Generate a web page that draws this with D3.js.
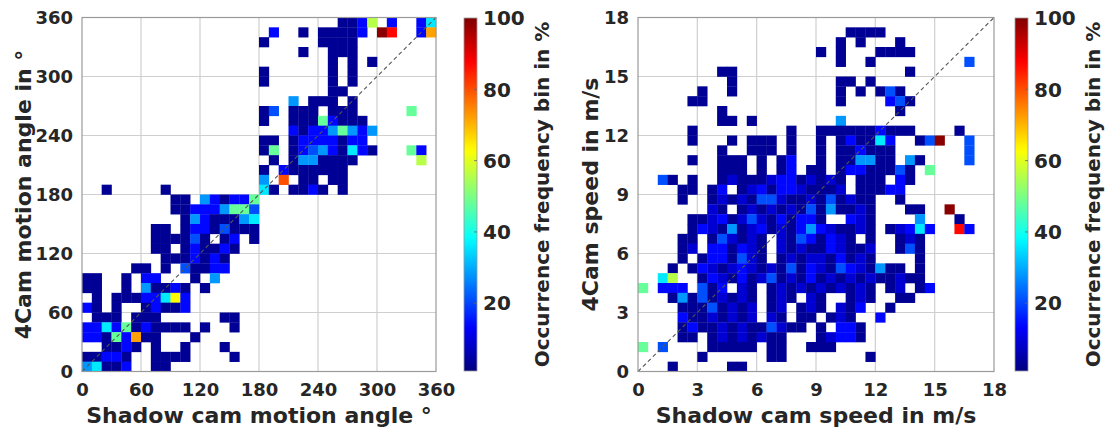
<!DOCTYPE html>
<html>
<head>
<meta charset="utf-8">
<script src="https://cdn.jsdelivr.net/npm/d3@7"></script>
<style>
  body { margin: 0; background: #fff; }
  text { font-family: "DejaVu Sans", Verdana, sans-serif; font-weight: bold; fill: #262626; }
</style>
</head>
<body>
<svg id="chart" width="1108" height="432"></svg>
<script>
// Tick labels
const angleTicks = [0, 60, 120, 180, 240, 300, 360];
const speedTicks = [0, 3, 6, 9, 12, 15, 18];
const colorTicks = [20, 40, 60, 80, 100];

// Occurrence frequency (%) for each colour level seen in the bins
const levelChars = ["1", "2", "3", "4", "5", "6", "7", "8", "9", "a", "b", "c", "d"];
const levelValues = [3, 9, 14, 21, 28, 36, 48, 56, 63, 72, 80, 87, 99];

// Motion angle histogram: 36 x 36 bins of 10 deg, top row (350-360) first,
// columns 0-360 left to right, "." = empty bin
const angleRows = [
  "...... ...... ...... ...... ..1138 .3..36",
  "...... ...... ...... .3..1. 11113. dc..3a",
  "...... ...... ...... 1..... 1111.. ......",
  "...... ...... ...... ....1. .111.. ......",
  "...... ...... ...... ...... .1.1.1 ......",
  "...... ...... ...... 1..... .1.1.. ......",
  "...... ...... ...... 1..... .1.1.. ......",
  "...... ...... ...... ...... .11... ......",
  "...... ...... ...... ...5.1 11.1.. ......",
  "...... ...... ...... 14.111 .111.. ...7..",
  "...... ...... ...... 1..111 73111. ......",
  "...... ...... ...... ...313 357535 ......",
  "...... ...... ...... 11.133 33133. ......",
  "...... ...... ...... 17.134 531631 ...73.",
  "...... ...... ...... .1.155 1111.. ....8.",
  "...... ...... ...... 1.3111 111... ......",
  "...... ...... ...... 5.b.11 .11... ......",
  "..1... ..1... ...... 61.113 1.1... ......",
  "...... ...11. 531337 ...... ...... ......",
  "...... ...113 335774 ...... ...... ......",
  "...... ....15 311156 ...... ...... ......",
  "...... .11.13 314111 ...... ...... ......",
  "...... .11114 1.13.1 ...... ...... ......",
  "...... .11.13 1131.. ...... ...... ......",
  "...... ..1113 131... ...... ...... ......",
  ".....1 1.1.41 133... ...... ...... ......",
  "11..1. 33...1 .5.... ...... ...... ......",
  "11..1. 51131. 1..... ...... ...... ......",
  ".1.111 33693. ...... ...... ...... ......",
  "31.1.. 13113. ...... ...... ...... ......",
  ".111.1 11.... ..11.. ...... ...... ......",
  "336371 31111. 1..1.. ...... ...... ......",
  "33173a 11...1 ...... ...... ...... ......",
  "..1131 .1..1. ..1... ...... ...... ......",
  "11331. .1111. ...1.. ...... ...... ......",
  "56113. .11... ...... ...... ...... ......"
];

// Speed histogram: 36 x 36 bins of 0.5 m/s, top row (17.5-18) first
const speedRows = [
  "...... ...... ...... ...... ...... ......",
  "...... ...... ...... ...111 1..... ......",
  "...... ...... ...... ..1.1. ..1... ......",
  "...... ...... ...... 1.1... 1111.. ......",
  "...... ...... ...... ..1..1 ...... ...4..",
  "...... ..11.. ...... ...... ...1.. ......",
  "...... ...1.. ...... ..11.1 ...... ......",
  "...... 1..1.. ...... ..1.1. 141... ......",
  ".....1 1..... ...... ..1... .341.. ......",
  "...... ..1... ...... ...... ..1... ......",
  "...... ..11.1 ...... ..5... ...... ......",
  ".....1 ...... ...1.. 111111 3111.. ..1...",
  ".....1 ...1.1 11.1.. 1.1311 63..14 d..4..",
  "...... ..1..1 11.1.. 1.1131 11.... ...4..",
  ".....1 ..111. 1.13.. 1.1155 11.51. ...4..",
  "...... ..111. 1.13.1 1.1331 1141.7 ......",
  "..41.1 ..1211 123312 121.11 1.31.. ......",
  "....11 .13.12 313321 112.11 133... ......",
  "....1. .12121 442112 141211 ..1... ......",
  "...... .21.12 121214 151121 ...11. .d....",
  ".....1 123124 213133 1..321 ....5. ..1...",
  ".....1 321512 312135 321121 .12363 ..c3..",
  "....11 .14212 1.2143 1321.1 ..121. ......",
  "....12 .33132 1.2121 132112 ..141. ......",
  "....1. 133142 1.1212 213121 ....1. ......",
  "...1.1 321232 121413 214321 511.1. ......",
  "..68.. 132131 241213 121212 11211. ......",
  "7.333. 413.21 .12121 212121 .12.13 ......",
  "...151 412121 .121.2 1..121 ..11.. ......",
  "....11 141212 .12.12 1.213. .1.... ......",
  "....31 121212 .21.11 .121.. 3..... ......",
  "....13 112121 14211. 1.331. ...... ......",
  "....11 .12121 211... 12331. ...... ......",
  "7.4... .11111 .11..1 11.... ...... ......",
  "...... 1..... .11... .....1 ...... ......",
  "...1.. ...11. ...... ...... ...... ......"
];

const svg = d3.select("#chart");
const plotTop = 17.5, plotBottom = 371.5;

// MATLAB style jet colormap
function jet(t) {
    const c = v => Math.max(0, Math.min(1, v));
    return d3.rgb(
        255 * c(1.5 - Math.abs(4 * t - 3)),
        255 * c(1.5 - Math.abs(4 * t - 2)),
        255 * c(1.5 - Math.abs(4 * t - 1))
    ).toString();
}
const colorScale = d3.scaleSequential(jet).domain([1, 100]);

function drawPanel(cfg) {
    const x = d3.scaleLinear().domain([0, cfg.max]).range([cfg.left, cfg.right]);
    const y = d3.scaleLinear().domain([0, cfg.max]).range([plotBottom, plotTop]);
    const bin = cfg.max / 36;
    const g = svg.append("g");

    // grid
    g.selectAll(".gx").data(cfg.ticks.slice(1, -1)).join("line")
        .attr("x1", d => x(d)).attr("x2", d => x(d))
        .attr("y1", plotTop).attr("y2", plotBottom)
        .attr("stroke", "#cfcfcf").attr("stroke-width", 1.2);
    g.selectAll(".gy").data(cfg.ticks.slice(1, -1)).join("line")
        .attr("y1", d => y(d)).attr("y2", d => y(d))
        .attr("x1", cfg.left).attr("x2", cfg.right)
        .attr("stroke", "#cfcfcf").attr("stroke-width", 1.2);

    // bins
    const cells = [];
    cfg.rows.forEach((row, r) => {
        const s = row.replace(/ /g, "");
        const j = 35 - r;
        [...s].forEach((ch, i) => {
            if (ch !== ".") cells.push({ i, j, v: levelValues[levelChars.indexOf(ch)] });
        });
    });
    g.selectAll("rect.cell").data(cells).join("rect")
        .attr("class", "cell")
        .attr("x", d => x(d.i * bin))
        .attr("y", d => y((d.j + 1) * bin))
        .attr("width", d => x((d.i + 1) * bin) - x(d.i * bin) + 0.3)
        .attr("height", d => y(d.j * bin) - y((d.j + 1) * bin) + 0.3)
        .attr("fill", d => colorScale(d.v));

    // 1:1 line
    g.append("line")
        .attr("x1", x(0)).attr("y1", y(0))
        .attr("x2", x(cfg.max)).attr("y2", y(cfg.max))
        .attr("stroke", "#555").attr("stroke-width", 1.1)
        .attr("stroke-dasharray", "4,3");

    // box
    g.append("rect")
        .attr("x", cfg.left).attr("y", plotTop)
        .attr("width", cfg.right - cfg.left).attr("height", plotBottom - plotTop)
        .attr("fill", "none").attr("stroke", "#9a9a9a").attr("stroke-width", 1.2);

    // axes
    const xAxis = g.append("g")
        .attr("transform", `translate(0,${plotBottom})`)
        .call(d3.axisBottom(x).tickValues(cfg.ticks).tickSize(0).tickPadding(12));
    const yAxis = g.append("g")
        .attr("transform", `translate(${cfg.left},0)`)
        .call(d3.axisLeft(y).tickValues(cfg.ticks).tickSize(0).tickPadding(9));
    [xAxis, yAxis].forEach(a => {
        a.select(".domain").remove();
        a.selectAll("text").style("font-size", "18px")
            .style("font-family", "'DejaVu Sans', Verdana, sans-serif")
            .style("font-weight", "bold").attr("fill", "#262626");
    });

    // axis titles
    g.append("text")
        .attr("x", (cfg.left + cfg.right) / 2).attr("y", 423)
        .attr("text-anchor", "middle").style("font-size", "22px")
        .text(cfg.xTitle);
    g.append("text")
        .attr("transform", `translate(${cfg.yTitleX},${(plotTop + plotBottom) / 2}) rotate(-90)`)
        .attr("text-anchor", "middle").attr("dy", "0.35em").style("font-size", "22px")
        .text(cfg.yTitle);

    // colorbar
    const cy = d3.scaleLinear().domain([1, 100]).range([plotBottom - 0.5, plotTop + 0.5]);
    const gradId = "jet-" + cfg.id;
    const grad = svg.append("defs").append("linearGradient")
        .attr("id", gradId).attr("x1", 0).attr("y1", 1).attr("x2", 0).attr("y2", 0);
    grad.selectAll("stop").data(d3.range(0, 1.0001, 0.02)).join("stop")
        .attr("offset", d => d).attr("stop-color", d => jet(d));
    g.append("rect")
        .attr("x", cfg.barX).attr("y", cy(100))
        .attr("width", 13).attr("height", cy(1) - cy(100))
        .attr("fill", `url(#${gradId})`)
        .attr("stroke", "#9a9a9a").attr("stroke-width", 0.8);
    g.selectAll(".cbtick").data(colorTicks.slice(0, -1)).join("line")
        .attr("x1", cfg.barX + 10).attr("x2", cfg.barX + 13)
        .attr("y1", d => cy(d)).attr("y2", d => cy(d))
        .attr("stroke", "#666").attr("stroke-width", 0.8);
    g.selectAll(".cblabel").data(colorTicks).join("text")
        .attr("x", cfg.barX + 19).attr("y", d => cy(d)).attr("dy", "0.36em")
        .style("font-size", "20px").text(d => d);
    g.append("text")
        .attr("transform", `translate(${cfg.barX + 78},${(plotTop + plotBottom) / 2}) rotate(-90)`)
        .attr("text-anchor", "middle").attr("dy", "0.35em").style("font-size", "20px")
        .text("Occurrence frequency bin in %");
}

drawPanel({
    id: "angle", rows: angleRows, max: 360, ticks: angleTicks,
    left: 82, right: 436, barX: 464, yTitleX: 23,
    xTitle: "Shadow cam motion angle °", yTitle: "4Cam motion angle in °"
});
drawPanel({
    id: "speed", rows: speedRows, max: 18, ticks: speedTicks,
    left: 638, right: 994, barX: 1015, yTitleX: 590,
    xTitle: "Shadow cam speed in m/s", yTitle: "4Cam speed in m/s"
});
</script>
</body>
</html>
